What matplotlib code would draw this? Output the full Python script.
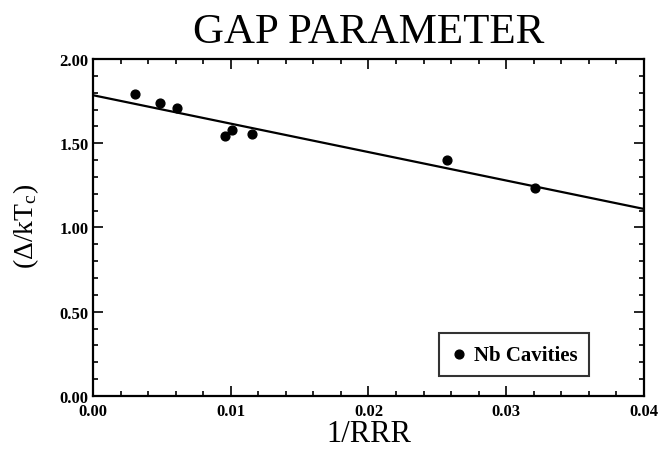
import numpy as np
import matplotlib
matplotlib.use('Agg')
import matplotlib.pyplot as plt
from matplotlib.ticker import MultipleLocator, FormatStrFormatter

plt.rcParams['font.family'] = ['Liberation Serif', 'DejaVu Serif']
plt.rcParams['mathtext.fontset'] = 'custom'
plt.rcParams['mathtext.rm'] = 'Liberation Serif'
plt.rcParams['mathtext.it'] = 'Liberation Serif:italic'
plt.rcParams['mathtext.bf'] = 'Liberation Serif:bold'

# data
inv_rrr = [0.00305, 0.00487, 0.0061, 0.00959, 0.0101, 0.01155, 0.0257, 0.0321]
gap = [1.79, 1.739, 1.709, 1.543, 1.579, 1.555, 1.40, 1.234]

fit_x = [0.0, 0.04]
fit_y = [1.785, 1.11]

fig = plt.figure(figsize=(6.59, 4.52), dpi=100)
ax = fig.add_axes([0.1411, 0.1217, 0.8361, 0.7456])

ax.plot(fit_x, fit_y, color='black', lw=1.6)
ax.scatter(inv_rrr, gap, s=40, color='black', zorder=3, label='Nb Cavities')

ax.set_xlim(0, 0.04)
ax.set_ylim(0, 2.0)
ax.xaxis.set_major_locator(MultipleLocator(0.01))
ax.xaxis.set_minor_locator(MultipleLocator(0.002))
ax.yaxis.set_major_locator(MultipleLocator(0.5))
ax.yaxis.set_minor_locator(MultipleLocator(0.1))
ax.xaxis.set_major_formatter(FormatStrFormatter('%.2f'))
ax.yaxis.set_major_formatter(FormatStrFormatter('%.2f'))
ax.tick_params(which='both', direction='in', top=True, right=True, width=1.2)
ax.tick_params(which='major', length=7, labelsize=12)
ax.tick_params(axis='y', which='major', pad=3)
ax.tick_params(axis='x', which='major', pad=5)
ax.tick_params(which='minor', length=3.5)
for lbl in ax.get_xticklabels() + ax.get_yticklabels():
    lbl.set_fontweight('bold')
for sp in ax.spines.values():
    sp.set_linewidth(1.6)

ax.set_title('GAP PARAMETER', fontsize=31, pad=12)
ax.set_xlabel('1/RRR', fontsize=22, labelpad=0)
ax.set_ylabel(r'($\Delta$/kT$_\mathregular{c}$)', fontsize=20)
ax.yaxis.set_label_coords(-0.095, 0.505)

leg = ax.legend(loc='lower right', bbox_to_anchor=(0.9, 0.059), borderaxespad=0,
                frameon=True, fancybox=False, edgecolor='black',
                handlelength=0.8, handletextpad=0.3, borderpad=0.55,
                prop={'size': 15, 'weight': 'bold'})
leg.get_frame().set_linewidth(1.5)

fig.savefig('out.png', dpi=100)
